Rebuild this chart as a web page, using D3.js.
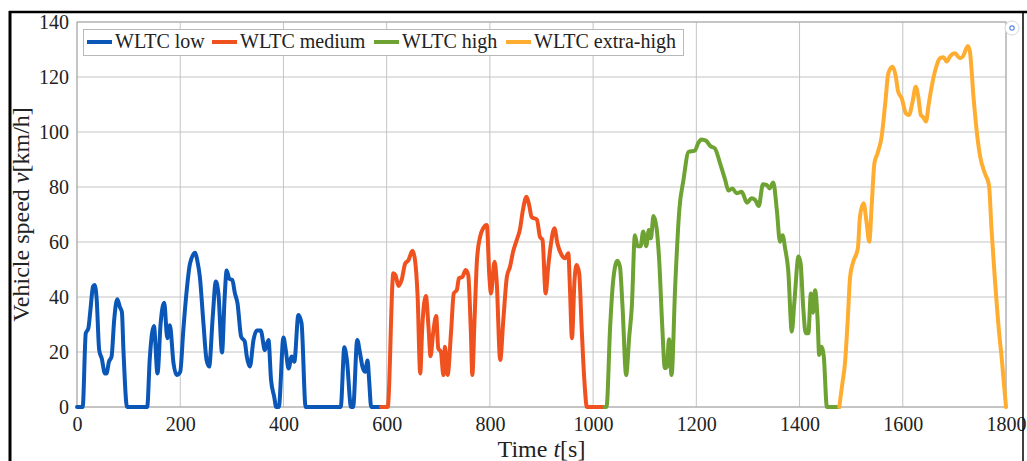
<!DOCTYPE html>
<html>
<head>
<meta charset="utf-8">
<script src="https://cdn.jsdelivr.net/npm/d3@7"></script>
<style>
  html, body { margin: 0; padding: 0; background: #fff; }
  svg { display: block; }
  text { font-family: "Liberation Serif", "Times New Roman", serif; fill: #222; }
</style>
</head>
<body>
<svg id="chart" width="1027" height="461"></svg>
<script>
// ---------------- DATA ----------------
const xTicks = [0, 200, 400, 600, 800, 1000, 1200, 1400, 1600, 1800];
const yTicks = [0, 20, 40, 60, 80, 100, 120, 140];
const seriesNames = ["WLTC low", "WLTC medium", "WLTC high", "WLTC extra-high"];
const seriesColors = ["#0a57b8", "#f0521f", "#6ea232", "#ffad31"];

const lowT = [0, 11, 17, 22, 26, 31, 34, 38, 43, 48, 54, 57, 62, 67, 72, 78, 83, 87, 90, 97, 136, 141, 149, 156, 162, 169, 175, 180, 187, 193, 200, 206, 212, 219, 229, 233, 238, 245, 251, 256, 263, 269, 274, 281, 286, 290, 295, 301, 306, 311, 318, 325, 329, 335, 342, 348, 356, 364, 371, 376, 382, 386, 391, 400, 404, 410, 416, 421, 429, 435, 443, 511, 518, 523, 531, 535, 543, 548, 553, 558, 563, 566, 570, 589];
const lowV = [0, 0, 26.8, 28.6, 35.3, 43.8, 44.4, 39.5, 20.7, 17.6, 12.2, 12.2, 16.5, 18.4, 31.6, 39.2, 36.4, 34.5, 20.6, 0, 0, 17.6, 29.5, 12.2, 30.3, 37.9, 25, 29.7, 15.9, 11.6, 12.8, 28, 41.3, 52.2, 56.1, 53.3, 47.4, 30.4, 17.1, 14.7, 32.8, 45.6, 41.3, 19.8, 39.6, 49.6, 46.7, 46.1, 41.3, 37.7, 25.6, 23.8, 18.3, 14.7, 24.4, 27.8, 27.8, 20.7, 24.4, 9.8, 3.8, 0, 0, 25.3, 21.3, 14, 18.4, 16.5, 33.5, 30.6, 0, 0, 21.7, 17, 0, 0, 24.4, 20, 14.7, 12.8, 16.9, 9.8, 0, 0];

const medT = [589, 602, 613, 617, 623, 629, 636, 642, 650, 655, 660, 665, 669, 676, 681, 685, 690, 696, 700, 705, 710, 713, 718, 725, 730, 736, 740, 747, 753, 758, 763, 766, 770, 775, 781, 787, 794, 799, 802, 809, 813, 820, 826, 833, 839, 845, 852, 858, 864, 871, 876, 881, 891, 897, 902, 908, 913, 918, 925, 931, 939, 946, 952, 955, 959, 964, 968, 973, 978, 983, 988, 1022];
const medV = [0, 0, 48.6, 48, 44, 46.2, 52.2, 53.3, 56.8, 53.3, 40.1, 12.2, 29.2, 40.4, 29.2, 18.5, 26.8, 33.1, 21.3, 20.1, 11.6, 21.9, 11.6, 28, 41.3, 42.6, 46.8, 47.4, 49.8, 48, 28, 11.6, 30.4, 53.5, 61.9, 65, 66.2, 47.4, 41.3, 52.8, 46.2, 17.1, 31.6, 47.4, 51, 56.5, 60.7, 64.4, 71.6, 76.5, 73.5, 69, 68.2, 61.9, 60.7, 41.3, 51, 58.9, 65, 59.4, 55.3, 54.1, 55.9, 43.8, 25, 46.2, 51.6, 48.6, 28, 9.8, 0, 0];

const highT = [1022, 1026, 1033, 1039, 1047, 1052, 1057, 1064, 1070, 1075, 1081, 1086, 1092, 1097, 1103, 1108, 1112, 1117, 1123, 1128, 1134, 1139, 1143, 1147, 1152, 1159, 1167, 1175, 1185, 1197, 1204, 1210, 1219, 1227, 1236, 1246, 1256, 1262, 1270, 1278, 1288, 1298, 1307, 1314, 1321, 1329, 1336, 1342, 1349, 1356, 1362, 1367, 1372, 1378, 1385, 1390, 1398, 1402, 1407, 1412, 1417, 1422, 1426, 1430, 1435, 1438, 1443, 1447, 1453, 1477];
const highV = [0, 0, 29.2, 46.2, 53.2, 51, 36.5, 11.6, 25.6, 36.5, 62.5, 58.5, 58.5, 63.8, 58.5, 64.4, 61.3, 69.5, 65, 53.5, 29.2, 14.1, 14.7, 24.6, 11.6, 43.8, 71.6, 82.5, 92.8, 93.2, 96.1, 97.3, 96.8, 94.9, 94, 88.6, 82.5, 78.7, 79.5, 77.7, 78.3, 74.3, 75.9, 75.3, 73.1, 81, 80.8, 79.5, 81.6, 71.6, 60.1, 62.5, 57.7, 49.8, 27.4, 38.3, 54.7, 52.3, 36.5, 26.8, 26.8, 41.3, 34.3, 42.5, 31.6, 18.9, 21.9, 18.3, 0, 0];

const xhT = [1477, 1483, 1488, 1493, 1498, 1504, 1513, 1517, 1524, 1530, 1535, 1540, 1545, 1551, 1559, 1566, 1572, 1580, 1586, 1591, 1598, 1606, 1612, 1619, 1625, 1630, 1635, 1640, 1645, 1650, 1656, 1664, 1672, 1679, 1685, 1692, 1701, 1711, 1717, 1726, 1730, 1737, 1743, 1750, 1759, 1767, 1772, 1779, 1785, 1792, 1800];
const xhV = [0, 8.6, 15.9, 30.4, 47.4, 52.8, 57.7, 69.2, 74.1, 66.9, 60.1, 74.1, 88.6, 92.2, 98.3, 110.4, 121.3, 123.7, 120.7, 114.7, 112.2, 106.8, 106.2, 111, 116.5, 112.8, 106.2, 105.3, 103.8, 109.8, 116.5, 123.2, 126.8, 127.2, 125.6, 127.6, 128.6, 126.8, 127.6, 131.3, 129.3, 112.8, 100.7, 91, 85, 80.7, 64.4, 45, 30.4, 17.1, 0];

// ---------------- LAYOUT ----------------
const svg = d3.select("#chart");
const L = 77, R = 1006, T = 22, B = 407;
const x = d3.scaleLinear().domain([0, 1800]).range([L, R]);
const y = d3.scaleLinear().domain([0, 140]).range([B, T]);

svg.append("rect").attr("x", 0).attr("y", 0).attr("width", 1027).attr("height", 461).attr("fill", "#fff");

// grid
const grid = svg.append("g");
grid.selectAll("line.gx").data(xTicks).join("line")
  .attr("x1", d => x(d)).attr("x2", d => x(d)).attr("y1", T).attr("y2", B)
  .attr("stroke", "#c4c4c4").attr("stroke-width", 1);
grid.selectAll("line.gy").data(yTicks).join("line")
  .attr("x1", L).attr("x2", R).attr("y1", d => y(d)).attr("y2", d => y(d))
  .attr("stroke", "#c4c4c4").attr("stroke-width", 1);
svg.append("rect").attr("x", L).attr("y", T).attr("width", R - L).attr("height", B - T)
  .attr("fill", "none").attr("stroke", "#a8a8a8").attr("stroke-width", 1);

// axes (labels only)
const xAxis = d3.axisBottom(x).tickValues(xTicks).tickSize(0).tickPadding(10).tickFormat(d3.format("d"));
const gx = svg.append("g").attr("transform", `translate(0,${B})`).call(xAxis);
gx.select(".domain").remove();
gx.selectAll("text").attr("font-size", 20).attr("font-family", "Liberation Serif").attr("fill", "#222");

const yAxis = d3.axisLeft(y).tickValues(yTicks).tickSize(0).tickPadding(8).tickFormat(d3.format("d"));
const gy = svg.append("g").attr("transform", `translate(${L},0)`).call(yAxis);
gy.select(".domain").remove();
gy.selectAll("text").attr("font-size", 20).attr("font-family", "Liberation Serif").attr("fill", "#222");

// series
const series = [
  { t: lowT, v: lowV }, { t: medT, v: medV }, { t: highT, v: highV }, { t: xhT, v: xhV }
];
const line = d3.line().x(d => x(d[0])).y(d => y(d[1])).curve(d3.curveMonotoneX);
series.forEach((s, i) => {
  const pts = s.t.map((t, k) => [t, s.v[k]]);
  svg.append("path").datum(pts).attr("d", line)
    .attr("fill", "none").attr("stroke", seriesColors[i]).attr("stroke-width", 4)
    .attr("stroke-linejoin", "round").attr("stroke-linecap", "round");
});

// legend
const lg = svg.append("g");
lg.append("rect").attr("x", 83.5).attr("y", 29.5).attr("width", 600).attr("height", 26)
  .attr("fill", "#fff").attr("stroke", "#b8b8b8").attr("stroke-width", 1);
const legX = [87, 212, 374, 506];
seriesNames.forEach((n, i) => {
  lg.append("line").attr("x1", legX[i]).attr("x2", legX[i] + 25).attr("y1", 42).attr("y2", 42)
    .attr("stroke", seriesColors[i]).attr("stroke-width", 4);
  lg.append("text").attr("x", legX[i] + 28).attr("y", 47.5).attr("font-size", 20).text(n);
});

// axis titles
const xt = svg.append("text").attr("x", (L + R) / 2).attr("y", 457).attr("text-anchor", "middle").attr("font-size", 24);
xt.append("tspan").text("Time ");
xt.append("tspan").attr("font-style", "italic").text("t");
xt.append("tspan").text("[s]");

const yt = svg.append("text").attr("transform", `translate(29,${(T + B) / 2}) rotate(-90)`).attr("text-anchor", "middle").attr("font-size", 24);
yt.append("tspan").text("Vehicle speed ");
yt.append("tspan").attr("font-style", "italic").text("v");
yt.append("tspan").text("[km/h]");

// screenshot border lines
svg.append("line").attr("x1", 10).attr("x2", 10).attr("y1", 11).attr("y2", 461).attr("stroke", "#000").attr("stroke-width", 3);
svg.append("line").attr("x1", 9).attr("x2", 1027).attr("y1", 12).attr("y2", 12).attr("stroke", "#000").attr("stroke-width", 2.5);
svg.append("line").attr("x1", 1023).attr("x2", 1023).attr("y1", 11).attr("y2", 461).attr("stroke", "#000").attr("stroke-width", 1.5);
svg.append("circle").attr("cx", 1012).attr("cy", 28).attr("r", 7).attr("fill", "#fff").attr("stroke", "#d8d8d8");
svg.append("circle").attr("cx", 1012).attr("cy", 28).attr("r", 2.2).attr("fill", "none").attr("stroke", "#5b8ee0").attr("stroke-width", 1.2);
</script>
</body>
</html>
